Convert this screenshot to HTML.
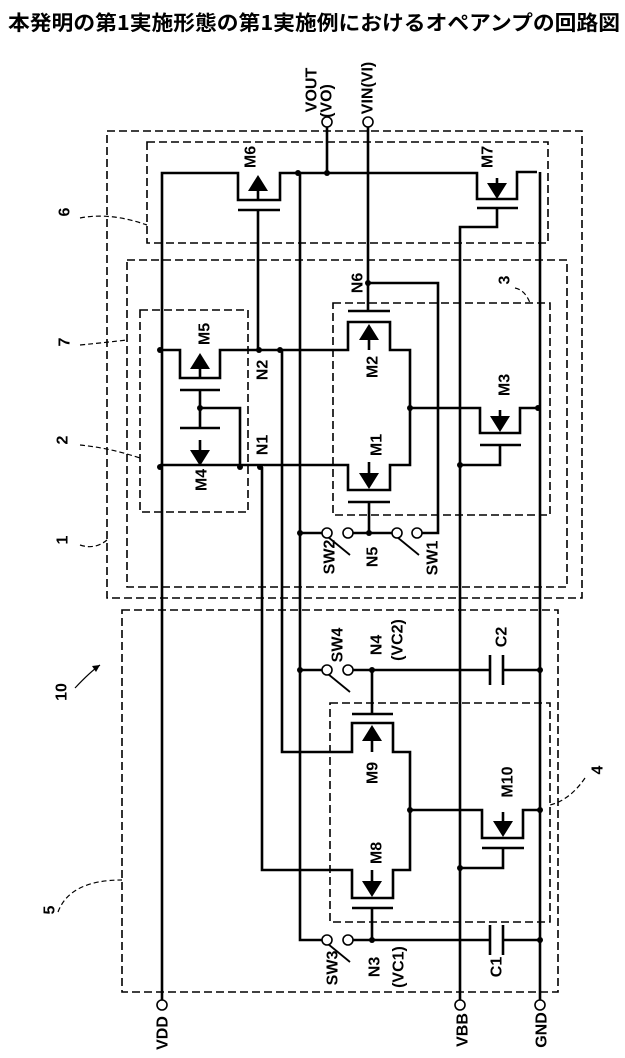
<!DOCTYPE html>
<html><head><meta charset="utf-8"><style>
html,body{margin:0;padding:0;background:#fff;}
svg{display:block}
text{font-family:"Liberation Sans","Noto Sans CJK JP",sans-serif;font-weight:bold;fill:#000}
</style></head><body>
<svg width="625" height="1058" viewBox="0 0 625 1058" xmlns="http://www.w3.org/2000/svg">
<text x="314" y="30" text-anchor="middle" font-size="20.5" textLength="612" lengthAdjust="spacingAndGlyphs" style="font-family:'Noto Sans CJK JP',sans-serif">本発明の第1実施形態の第1実施例におけるオペアンプの回路図</text>

<g fill="none" stroke="#000" stroke-width="1.6" stroke-dasharray="8,4">
<rect x="107" y="131" width="475" height="467"/>
<rect x="147" y="142" width="401" height="101"/>
<rect x="127" y="260" width="440" height="327"/>
<rect x="140" y="310" width="108" height="202"/>
<rect x="333" y="303" width="217" height="212"/>
<rect x="122" y="610" width="436" height="382"/>
<rect x="330" y="703" width="220" height="219"/>
</g>
<g fill="none" stroke="#000" stroke-width="1.2" stroke-dasharray="5,3">
<path d="M80,218 Q110,212 147,225"/>
<path d="M80,345 Q110,342 127,340"/>
<path d="M80,445 Q110,448 140,458"/>
<path d="M80,545 Q95,550 107,540"/>
<path d="M58,912 Q70,880 122,880"/>
<path d="M585,778 Q570,800 550,805"/>
<path d="M515,288 Q525,290 530,303"/>
</g>
<path d="M75,688 Q90,672 100,665" fill="none" stroke="#000" stroke-width="1.2"/>
<path d="M100,665 l-8,1 l4,6 z" fill="#000"/>

<g fill="none" stroke="#000" stroke-width="2.6" stroke-linejoin="miter">
<path d="M162,1000 V173 H238 V200 H280 V173 H477 V199 H517 V172 H537"/>
<path d="M540,172 V1000"/>
<path d="M160,350 H180 V378 H220 V350 H348 V322 H390 V350 H410 V465 H390 V490 H348 V465 H160"/>
<path d="M238,210 H280 M258,210 V350"/>
<path d="M477,208 H518 M497,208 V227 H460 V1000"/>
<path d="M327,127 V173 M368,127 V311"/>
<path d="M300,173 V940 H322"/>
<path d="M180,390 H220 M180,428 H220 M200,390 V428 M200,408 H240 V467"/>
<path d="M348,311 H390 M348,502 H390 M369,502 V533"/>
<path d="M300,533 H322 M353,533 H392 M422,533 H438 V283 H368"/>
<path d="M410,408 H480 V433 H520 V408 H540"/>
<path d="M480,445 H521 M500,445 V465 H460"/>
<path d="M282,350 V752 H352 V723 H393 V752 H410 V870 H393 V898 H352 V870 H262 V467"/>
<path d="M352,714 H393 M372,714 V670 M352,908 H393 M372,908 V940"/>
<path d="M300,670 H322 M353,670 H490 M503,670 H540 M353,940 H490 M503,940 H540"/>
<path d="M410,810 H482 V838 H523 V810 H540"/>
<path d="M482,848 H524 M503,848 V868 H460"/>
</g>
<g stroke="#000" stroke-width="2.6">
<line x1="490" y1="655" x2="490" y2="685"/><line x1="503" y1="655" x2="503" y2="685"/>
<line x1="490" y1="925" x2="490" y2="955"/><line x1="503" y1="925" x2="503" y2="955"/>
<line x1="258" y1="188" x2="258" y2="200"/><line x1="497" y1="178" x2="497" y2="188"/>
<line x1="200" y1="365" x2="200" y2="378"/><line x1="200" y1="440" x2="200" y2="453"/>
<line x1="369" y1="336" x2="369" y2="350"/><line x1="369" y1="462" x2="369" y2="476"/>
<line x1="500" y1="410" x2="500" y2="420"/>
<line x1="372" y1="737" x2="372" y2="752"/><line x1="372" y1="870" x2="372" y2="884"/>
<line x1="503" y1="812" x2="503" y2="824"/>
</g>
<g stroke="#000" stroke-width="1.8">
<line x1="328" y1="537" x2="350" y2="555"/><line x1="397" y1="537" x2="419" y2="555"/>
<line x1="328" y1="674" x2="350" y2="692"/><line x1="328" y1="944" x2="350" y2="962"/>
</g>
<g fill="#000">
<path d="M258,175 l-10,16 h20 z"/><path d="M497,199 l-10,-16 h20 z"/>
<path d="M200,353 l-10,16 h20 z"/><path d="M200,466 l-10,-16 h20 z"/>
<path d="M369,324 l-10,16 h20 z"/><path d="M369,489 l-10,-16 h20 z"/>
<path d="M500,432 l-10,-16 h20 z"/>
<path d="M372,725 l-10,16 h20 z"/><path d="M372,897 l-10,-16 h20 z"/>
<path d="M503,837 l-10,-16 h20 z"/>
<circle cx="298" cy="173" r="3"/><circle cx="327" cy="173" r="3"/>
<circle cx="160" cy="350" r="3"/><circle cx="259" cy="350" r="3"/><circle cx="280" cy="350" r="3"/>
<circle cx="200" cy="408" r="3"/><circle cx="160" cy="467" r="3"/><circle cx="240" cy="467" r="3"/><circle cx="260" cy="467" r="3"/>
<circle cx="410" cy="408" r="3"/><circle cx="538" cy="408" r="3"/><circle cx="460" cy="465" r="3"/>
<circle cx="368" cy="283" r="3"/><circle cx="300" cy="533" r="3"/><circle cx="369" cy="533" r="3"/>
<circle cx="300" cy="670" r="3"/><circle cx="372" cy="670" r="3"/><circle cx="540" cy="670" r="3"/>
<circle cx="410" cy="810" r="3"/><circle cx="540" cy="810" r="3"/><circle cx="460" cy="868" r="3"/>
<circle cx="372" cy="940" r="3"/><circle cx="540" cy="940" r="3"/>
</g>
<g fill="#fff" stroke="#000" stroke-width="1.6">
<circle cx="327" cy="122" r="5"/><circle cx="368" cy="122" r="5"/>
<circle cx="162" cy="1005" r="5"/><circle cx="460" cy="1005" r="5"/><circle cx="540" cy="1005" r="5"/>
<circle cx="327" cy="533" r="5"/><circle cx="348" cy="533" r="5"/><circle cx="397" cy="533" r="5"/><circle cx="417" cy="533" r="5"/>
<circle cx="327" cy="670" r="5"/><circle cx="348" cy="670" r="5"/><circle cx="327" cy="940" r="5"/><circle cx="348" cy="940" r="5"/>
</g>
<g font-size="16" text-anchor="middle" dominant-baseline="central">
<text transform="translate(312,90) rotate(-90)">VOUT</text>
<text transform="translate(327,101) rotate(-90)" font-weight="normal">(VO)</text>
<text transform="translate(368,88) rotate(-90)">VIN(VI)</text>
<text transform="translate(251,157) rotate(-90)">M6</text>
<text transform="translate(488,157) rotate(-90)">M7</text>
<text transform="translate(358,283) rotate(-90)">N6</text>
<text transform="translate(205,334) rotate(-90)">M5</text>
<text transform="translate(263,370) rotate(-90)">N2</text>
<text transform="translate(373,367) rotate(-90)">M2</text>
<text transform="translate(505,385) rotate(-90)">M3</text>
<text transform="translate(263,445) rotate(-90)">N1</text>
<text transform="translate(377,445) rotate(-90)">M1</text>
<text transform="translate(202,480) rotate(-90)">M4</text>
<text transform="translate(330,557) rotate(-90)">SW2</text>
<text transform="translate(373,557) rotate(-90)">N5</text>
<text transform="translate(433,558) rotate(-90)">SW1</text>
<text transform="translate(338,645) rotate(-90)">SW4</text>
<text transform="translate(377,645) rotate(-90)">N4</text>
<text transform="translate(398,640) rotate(-90)" font-weight="normal">(VC2)</text>
<text transform="translate(502,637) rotate(-90)">C2</text>
<text transform="translate(373,773) rotate(-90)">M9</text>
<text transform="translate(508,782) rotate(-90)">M10</text>
<text transform="translate(377,853) rotate(-90)">M8</text>
<text transform="translate(333,968) rotate(-90)">SW3</text>
<text transform="translate(375,967) rotate(-90)">N3</text>
<text transform="translate(399,967) rotate(-90)" font-weight="normal">(VC1)</text>
<text transform="translate(497,967) rotate(-90)">C1</text>
<text transform="translate(163,1033) rotate(-90)">VDD</text>
<text transform="translate(463,1030) rotate(-90)">VBB</text>
<text transform="translate(542,1030) rotate(-90)">GND</text>
<text transform="translate(65,212) rotate(-90)">6</text>
<text transform="translate(65,342) rotate(-90)">7</text>
<text transform="translate(63,440) rotate(-90)">2</text>
<text transform="translate(63,540) rotate(-90)">1</text>
<text transform="translate(62,692) rotate(-90)">10</text>
<text transform="translate(50,910) rotate(-90)">5</text>
<text transform="translate(598,770) rotate(-90)">4</text>
<text transform="translate(505,280) rotate(-90)">3</text>
</g>
</svg>
</body></html>
